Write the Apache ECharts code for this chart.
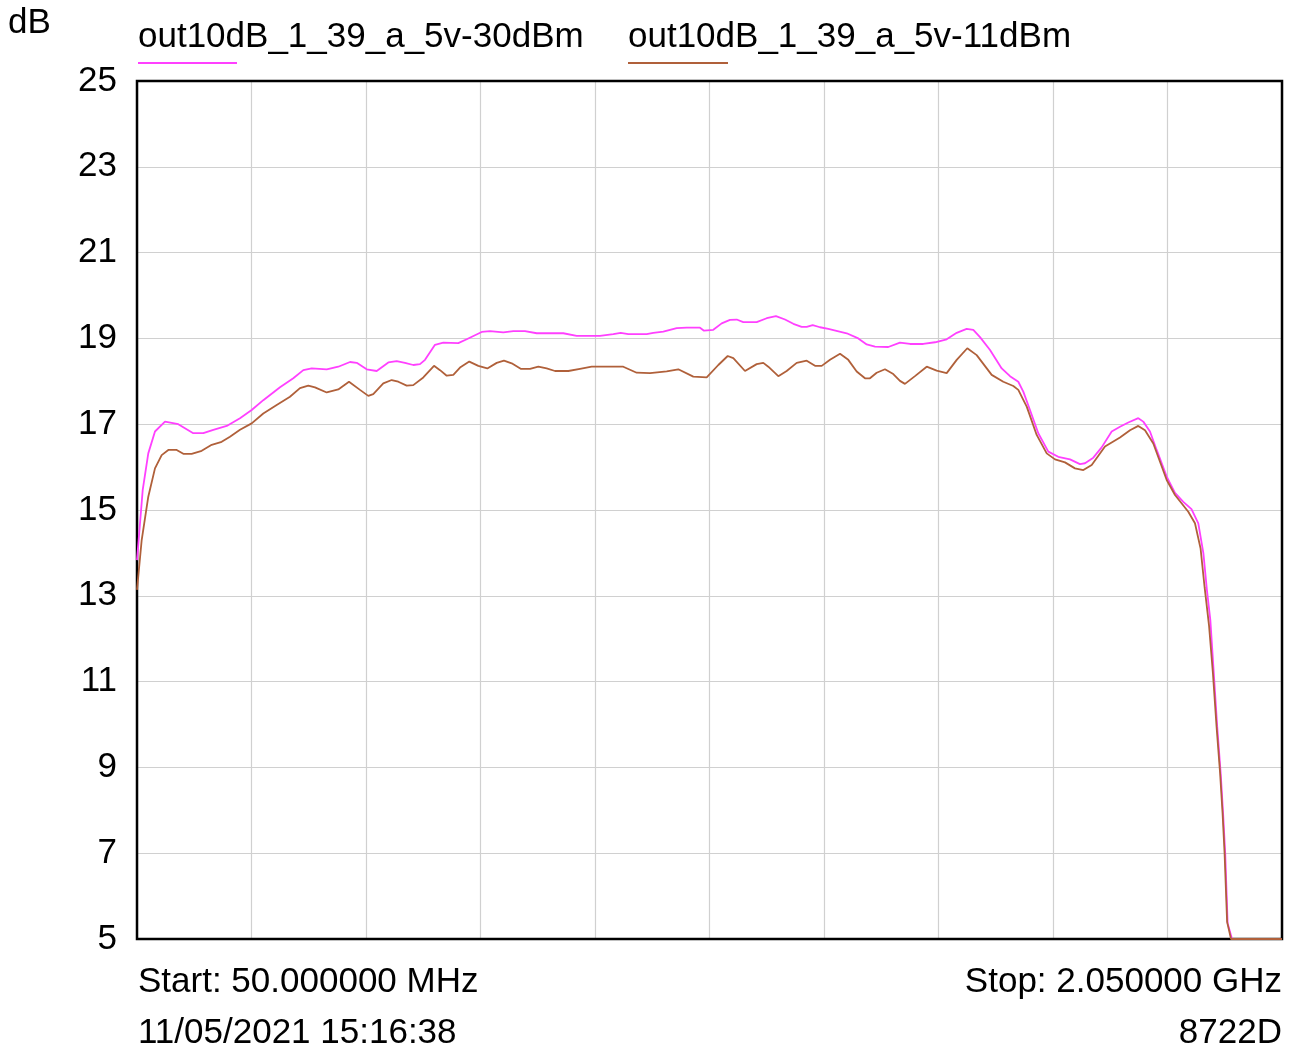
<!DOCTYPE html>
<html>
<head>
<meta charset="utf-8">
<script src="https://cdn.jsdelivr.net/npm/echarts@6/dist/echarts.min.js"></script>
<style>
html,body{margin:0;padding:0;background:#fff;}
#chart{width:1293px;height:1048px;}
</style>
</head>
<body>
<div id="chart"></div>
<script>
// Frequencies in MHz, gain in dB
const seriesNames = ['out10dB_1_39_a_5v-30dBm', 'out10dB_1_39_a_5v-11dBm'];
const yTicks = [5, 7, 9, 11, 13, 15, 17, 19, 21, 23, 25];

const freqA = [50, 60, 69.7, 81.4, 98.9, 122.1, 148.3, 165.8, 183.3, 206.7, 229.9, 250.3, 270.6, 299.8, 323, 340.5, 355.2, 381.4, 401.6, 422.1, 433.8, 451.2, 468.7, 489, 503.6, 518.1, 532.6, 544.3, 553.1, 570.5, 585, 611.2, 625.9, 652.1, 666.6, 689.8, 707.3, 727.7, 748.2, 794.6, 818, 858.7, 882, 894.9, 908.2, 940.3, 951.8, 969.3, 992.7, 1010.2, 1033.4, 1040.4, 1056.6, 1071.3, 1085.8, 1097.5, 1109, 1132.4, 1149.9, 1166.1, 1181.9, 1196.4, 1211, 1219.8, 1230.3, 1243, 1257.5, 1289.7, 1309.9, 1324.6, 1339.1, 1362.3, 1382.7, 1400.2, 1423.4, 1443.9, 1464.3, 1481.8, 1499.2, 1510.8, 1522.5, 1540, 1560.4, 1574.9, 1589.4, 1598.1, 1609.8, 1624.3, 1641.8, 1659.2, 1679.7, 1697.1, 1705.9, 1720.4, 1735, 1752.5, 1767, 1781.5, 1799, 1807.7, 1819.4, 1831.1, 1848.6, 1863.1, 1877.6, 1891.9, 1903.8, 1912.7, 1918.8, 1924.8, 1930.9, 1936.8, 1942.9, 1947.1, 1950.8, 1955, 1962.7, 2050];
const dbA = [13.83, 15.47, 16.32, 16.83, 17.06, 17.0, 16.79, 16.79, 16.87, 16.96, 17.14, 17.33, 17.56, 17.86, 18.07, 18.26, 18.3, 18.28, 18.34, 18.45, 18.43, 18.28, 18.24, 18.44, 18.47, 18.43, 18.38, 18.4, 18.5, 18.85, 18.9, 18.89, 18.98, 19.15, 19.17, 19.14, 19.17, 19.17, 19.12, 19.12, 19.06, 19.06, 19.1, 19.13, 19.1, 19.1, 19.13, 19.16, 19.24, 19.25, 19.25, 19.18, 19.2, 19.35, 19.43, 19.44, 19.38, 19.38, 19.47, 19.52, 19.44, 19.34, 19.27, 19.27, 19.31, 19.26, 19.22, 19.12, 19.0, 18.86, 18.81, 18.8, 18.9, 18.87, 18.87, 18.91, 18.98, 19.13, 19.22, 19.2, 19.03, 18.73, 18.3, 18.12, 17.99, 17.76, 17.33, 16.79, 16.36, 16.24, 16.18, 16.07, 16.09, 16.22, 16.46, 16.83, 16.94, 17.04, 17.14, 17.06, 16.83, 16.4, 15.78, 15.4, 15.19, 15.02, 14.69, 13.99, 13.14, 12.44, 11.19, 9.95, 8.86, 7.93, 7.0, 5.37, 5.0, 5.0];

const freqB = [50, 58.2, 69.7, 81.4, 93.1, 104.7, 119.3, 130.9, 145.5, 163, 180.5, 197.9, 212.4, 229.9, 250.3, 270.6, 294, 317.2, 334.7, 349.2, 360.9, 381.4, 401.6, 420.3, 439.5, 454, 462.7, 480.2, 494.9, 506.4, 521.1, 532.6, 550.1, 568.8, 579.3, 591, 602.5, 614.2, 630.4, 646.2, 661.9, 678.3, 691, 704.5, 720.2, 736.5, 751, 765.6, 780.1, 803.4, 823.8, 844.2, 899.4, 922.8, 946.1, 975.2, 995.5, 1021.7, 1045.1, 1065.4, 1081.8, 1091.6, 1112, 1132.4, 1144, 1152.7, 1170.2, 1184.8, 1202.3, 1219.8, 1234.3, 1246, 1260.5, 1278, 1292.4, 1307.1, 1321.6, 1330.3, 1342, 1356.5, 1371, 1382.7, 1391.4, 1408.9, 1429.4, 1446.8, 1464.3, 1481.8, 1500.3, 1516.7, 1542.9, 1563.2, 1580.7, 1589.4, 1604.1, 1621.5, 1639, 1653.5, 1671, 1688.4, 1703, 1717.6, 1740.8, 1767, 1784.5, 1799, 1810.7, 1825.2, 1848.6, 1863.1, 1886.3, 1898, 1907.8, 1914.8, 1922.6, 1929.3, 1935.7, 1941.9, 1946.2, 1949.7, 1954.1, 1961, 2050];
const dbB = [13.14, 14.3, 15.31, 15.97, 16.28, 16.4, 16.4, 16.31, 16.31, 16.38, 16.52, 16.59, 16.71, 16.87, 17.02, 17.25, 17.45, 17.64, 17.84, 17.9, 17.86, 17.74, 17.81, 17.99, 17.8, 17.66, 17.7, 17.95, 18.03, 17.99, 17.9, 17.91, 18.09, 18.36, 18.26, 18.13, 18.15, 18.32, 18.46, 18.36, 18.3, 18.43, 18.48, 18.42, 18.29, 18.29, 18.34, 18.3, 18.24, 18.24, 18.29, 18.34, 18.34, 18.2, 18.19, 18.23, 18.28, 18.11, 18.09, 18.38, 18.59, 18.54, 18.24, 18.4, 18.43, 18.34, 18.12, 18.24, 18.43, 18.48, 18.36, 18.36, 18.5, 18.64, 18.5, 18.23, 18.07, 18.07, 18.2, 18.28, 18.17, 18.01, 17.94, 18.12, 18.34, 18.25, 18.19, 18.5, 18.77, 18.61, 18.15, 17.99, 17.89, 17.8, 17.41, 16.75, 16.32, 16.18, 16.11, 15.97, 15.93, 16.05, 16.48, 16.69, 16.86, 16.96, 16.86, 16.55, 15.7, 15.35, 14.96, 14.69, 14.1, 13.2, 12.3, 11.2, 9.95, 8.86, 7.93, 7.0, 5.4, 5.0, 5.0];

const colors = ['#ff40ff', '#b0603a'];
const FONT = '"Liberation Sans", Arial, sans-serif';

function pairs(xs, ys) { return xs.map((x, i) => [x, ys[i]]); }

const chart = echarts.init(document.getElementById('chart'), null, { renderer: 'canvas' });
const G = { left: 137, top: 81, width: 1145, height: 858 };

chart.setOption({
  animation: false,
  backgroundColor: '#ffffff',
  grid: { left: G.left, top: G.top, width: G.width, height: G.height, show: true, borderColor: '#000', borderWidth: 2.5, backgroundColor: 'transparent', z: 5 },
  xAxis: {
    type: 'value', min: 50, max: 2050, interval: 200,
    axisLine: { show: false }, axisTick: { show: false }, axisLabel: { show: false },
    splitLine: { show: true, lineStyle: { color: '#d0d0d0', width: 1.2 } }
  },
  yAxis: {
    type: 'value', min: yTicks[0], max: yTicks[yTicks.length - 1], interval: 2,
    axisLine: { show: false }, axisTick: { show: false },
    axisLabel: { show: true, color: '#000', fontSize: 35, fontFamily: FONT, margin: 20 },
    splitLine: { show: true, lineStyle: { color: '#d0d0d0', width: 1.2 } }
  },
  series: [
    { name: seriesNames[0], type: 'line', data: pairs(freqA, dbA), showSymbol: false, symbol: 'none', clip: false, lineStyle: { color: colors[0], width: 1.8 }, z: 10 },
    { name: seriesNames[1], type: 'line', data: pairs(freqB, dbB), showSymbol: false, symbol: 'none', clip: false, lineStyle: { color: colors[1], width: 1.8 }, z: 11 }
  ],
  graphic: [
    { type: 'text', left: 8, top: 6, style: { text: 'dB', font: '35px ' + FONT, fill: '#000' } },
    { type: 'text', left: 138, top: 20, style: { text: seriesNames[0], font: '35px ' + FONT, fill: '#000' } },
    { type: 'line', shape: { x1: 138, y1: 63, x2: 237, y2: 63 }, style: { stroke: colors[0], lineWidth: 2 } },
    { type: 'text', left: 628, top: 20, style: { text: seriesNames[1], font: '35px ' + FONT, fill: '#000' } },
    { type: 'line', shape: { x1: 628, y1: 63, x2: 728, y2: 63 }, style: { stroke: colors[1], lineWidth: 2 } },
    { type: 'text', left: 138, top: 965, style: { text: 'Start: 50.000000 MHz', font: '35px ' + FONT, fill: '#000' } },
    { type: 'text', right: 11, top: 965, style: { text: 'Stop: 2.050000 GHz', font: '35px ' + FONT, fill: '#000' } },
    { type: 'text', left: 138, top: 1016, style: { text: '11/05/2021 15:16:38', font: '35px ' + FONT, fill: '#000' } },
    { type: 'text', right: 11, top: 1016, style: { text: '8722D', font: '35px ' + FONT, fill: '#000' } }
  ]
});
</script>
</body>
</html>
